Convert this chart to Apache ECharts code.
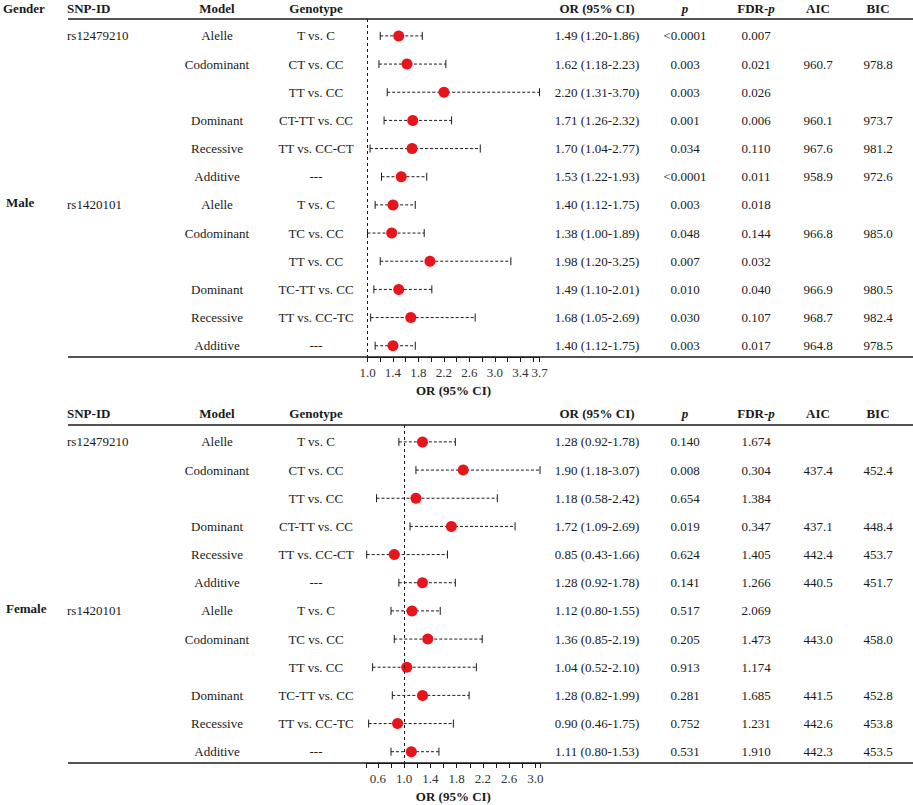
<!DOCTYPE html>
<html lang="en">
<head>
<meta charset="UTF-8">
<script src="https://cdn.jsdelivr.net/npm/echarts@6/dist/echarts.min.js"></script>
<title>Forest plot</title>
<style>
    html, body { margin: 0; padding: 0; background: #fff; }
    #main { width: 913px; height: 805px; }
</style>
</head>
<body>
<div id="main"></div>
<script>
    // row labels (same for both panels)
    var snpIds = ['rs12479210', '', '', '', '', '', 'rs1420101', '', '', '', '', ''];
    var models = ['Alelle', 'Codominant', '', 'Dominant', 'Recessive', 'Additive',
                  'Alelle', 'Codominant', '', 'Dominant', 'Recessive', 'Additive'];
    var genotypes = ['T vs. C', 'CT vs. CC', 'TT vs. CC', 'CT-TT vs. CC', 'TT vs. CC-CT', '---',
                     'T vs. C', 'TC vs. CC', 'TT vs. CC', 'TC-TT vs. CC', 'TT vs. CC-TC', '---'];

    // male
    var maleOR   = [1.49, 1.62, 2.20, 1.71, 1.70, 1.53, 1.40, 1.38, 1.98, 1.49, 1.68, 1.40];
    var maleLow  = [1.20, 1.18, 1.31, 1.26, 1.04, 1.22, 1.12, 1.00, 1.20, 1.10, 1.05, 1.12];
    var maleHigh = [1.86, 2.23, 3.70, 2.32, 2.77, 1.93, 1.75, 1.89, 3.25, 2.01, 2.69, 1.75];
    var maleP    = ['<0.0001', '0.003', '0.003', '0.001', '0.034', '<0.0001', '0.003', '0.048', '0.007', '0.010', '0.030', '0.003'];
    var maleFdr  = ['0.007', '0.021', '0.026', '0.006', '0.110', '0.011', '0.018', '0.144', '0.032', '0.040', '0.107', '0.017'];
    var maleAic  = ['', '960.7', '', '960.1', '967.6', '958.9', '', '966.8', '', '966.9', '968.7', '964.8'];
    var maleBic  = ['', '978.8', '', '973.7', '981.2', '972.6', '', '985.0', '', '980.5', '982.4', '978.5'];

    // female
    var femaleOR   = [1.28, 1.90, 1.18, 1.72, 0.85, 1.28, 1.12, 1.36, 1.04, 1.28, 0.90, 1.11];
    var femaleLow  = [0.92, 1.18, 0.58, 1.09, 0.43, 0.92, 0.80, 0.85, 0.52, 0.82, 0.46, 0.80];
    var femaleHigh = [1.78, 3.07, 2.42, 2.69, 1.66, 1.78, 1.55, 2.19, 2.10, 1.99, 1.75, 1.53];
    var femaleP    = ['0.140', '0.008', '0.654', '0.019', '0.624', '0.141', '0.517', '0.205', '0.913', '0.281', '0.752', '0.531'];
    var femaleFdr  = ['1.674', '0.304', '1.384', '0.347', '1.405', '1.266', '2.069', '1.473', '1.174', '1.685', '1.231', '1.910'];
    var femaleAic  = ['', '437.4', '', '437.1', '442.4', '440.5', '', '443.0', '', '441.5', '442.6', '442.3'];
    var femaleBic  = ['', '452.4', '', '448.4', '453.7', '451.7', '', '458.0', '', '452.8', '453.8', '453.5'];

    // axis ticks / labels
    var topTicks = [1.0, 1.2, 1.4, 1.6, 1.8, 2.0, 2.2, 2.4, 2.6, 2.8, 3.0, 3.2, 3.4, 3.6, 3.7];
    var topLabels = [1.0, 1.4, 1.8, 2.2, 2.6, 3.0, 3.4, 3.7];
    var bottomTicks = [0.43, 0.6, 0.8, 1.0, 1.2, 1.4, 1.6, 1.8, 2.0, 2.2, 2.4, 2.6, 2.8, 3.0, 3.07];
    var bottomLabels = [0.6, 1.0, 1.4, 1.8, 2.2, 2.6, 3.0];

    var headers = ['SNP-ID', 'Model', 'Genotype', 'OR (95% CI)', '{i|p}', 'FDR-{i|p}', 'AIC', 'BIC'];

    var serif = "'Liberation Serif', 'Times New Roman', serif";
    var ink = '#1a1a1a';
    var dotColor = '#e8141b';
    // column x positions (px)
    var colX = [67, 217, 316, 597, 685, 756, 818, 878];

    function txt(x, y, s, opt) {
        opt = opt || {};
        return {
            type: 'text', x: x, y: y, silent: true,
            style: {
                text: s, fill: ink, fontSize: 13, fontFamily: serif,
                fontWeight: opt.bold ? 'bold' : 'normal',
                align: opt.align || 'center', verticalAlign: 'middle',
                rich: {i: {fontStyle: 'italic', fontWeight: opt.bold ? 'bold' : 'normal', fontSize: 13, fontFamily: serif, fill: ink}}
            }
        };
    }

    function tableSeries(idx, xMin, or, lo, hi, p, fdr, aic, bic, gender) {
        return {
            type: 'custom', xAxisIndex: idx, yAxisIndex: idx, silent: true,
            data: genotypes.map(function (g, i) { return [xMin, i]; }),
            renderItem: function (params, api) {
                var i = params.dataIndex;
                var y = api.coord([xMin, i])[1];
                var kids = [
                    txt(colX[0], y, snpIds[i], {align: 'left'}),
                    txt(colX[1], y, models[i]),
                    txt(colX[2], y, genotypes[i]),
                    txt(colX[3], y, or[i].toFixed(2) + ' (' + lo[i].toFixed(2) + '-' + hi[i].toFixed(2) + ')'),
                    txt(colX[4], y, p[i]),
                    txt(colX[5], y, fdr[i]),
                    txt(colX[6], y, aic[i]),
                    txt(colX[7], y, bic[i])
                ];
                if (i === 6) {
                    kids.push(txt(6, api.coord([xMin, 5.9])[1], gender, {align: 'left', bold: true}));
                }
                return {type: 'group', children: kids};
            }
        };
    }

    function whiskerSeries(idx, lo, hi) {
        return {
            type: 'custom', xAxisIndex: idx, yAxisIndex: idx, silent: true, z: 3,
            data: lo.map(function (l, i) { return [l, hi[i], i]; }),
            encode: {x: [0, 1], y: 2},
            renderItem: function (params, api) {
                var a = api.coord([api.value(0), api.value(2)]);
                var b = api.coord([api.value(1), api.value(2)]);
                var st = {stroke: ink, lineWidth: 1};
                return {
                    type: 'group',
                    children: [
                        {type: 'line', shape: {x1: a[0], y1: a[1], x2: b[0], y2: b[1]},
                         style: {stroke: ink, lineWidth: 1, lineDash: [3, 2]}},
                        {type: 'line', shape: {x1: a[0], y1: a[1] - 4, x2: a[0], y2: a[1] + 4}, style: st},
                        {type: 'line', shape: {x1: b[0], y1: b[1] - 4, x2: b[0], y2: b[1] + 4}, style: st}
                    ]
                };
            }
        };
    }

    function dotSeries(idx, or) {
        return {
            type: 'scatter', xAxisIndex: idx, yAxisIndex: idx, z: 4, silent: true,
            symbolSize: 11,
            itemStyle: {color: dotColor, opacity: 1},
            data: or.map(function (v, i) { return [v, i]; }),
            markLine: {
                silent: true, symbol: ['none', 'none'], label: {show: false},
                lineStyle: {color: ink, width: 1, type: [3, 3]},
                data: [{xAxis: 1}]
            }
        };
    }

    function xAxisOf(idx, min, max, ticks, labels) {
        return {
            gridIndex: idx, type: 'value', min: min, max: max, position: 'bottom',
            axisLine: {onZero: false, lineStyle: {color: ink, width: 1.2}},
            axisTick: {length: 5, customValues: ticks, lineStyle: {color: ink}},
            axisLabel: {
                customValues: labels, margin: 9, fontSize: 13, fontFamily: serif, color: '#333',
                formatter: function (v) { return v.toFixed(1); }
            },
            splitLine: {show: false},
            name: 'OR (95% CI)', nameLocation: 'middle', nameGap: 27,
            nameTextStyle: {fontSize: 13, fontFamily: serif, fontWeight: 'bold', color: ink}
        };
    }

    function yAxisOf(idx) {
        return {gridIndex: idx, type: 'value', inverse: true, min: -0.6, max: 11.4, show: false};
    }

    // header texts and table rules
    var graphics = [];
    [[8, 19, 357], [413, 425, 763]].forEach(function (sec, s) {
        headers.forEach(function (h, k) {
            graphics.push(txt(colX[k], sec[0], h, {bold: true, align: k === 0 ? 'left' : 'center'}));
        });
        if (s === 0) graphics.push(txt(3, sec[0], 'Gender', {bold: true, align: 'left'}));
        [sec[1], sec[2]].forEach(function (ly) {
            graphics.push({type: 'line', silent: true, z: 10,
                shape: {x1: 68, y1: ly, x2: 913, y2: ly}, style: {stroke: ink, lineWidth: 1.6}});
        });
    });

    var chart = echarts.init(document.getElementById('main'), null, {renderer: 'svg'});
    var option = {
        animation: false,
        backgroundColor: '#fff',
        grid: [
            {left: 367.5, top: 19, width: 172, height: 338, outerBoundsMode: 'none'},
            {left: 366.7, top: 425, width: 173.3, height: 338, outerBoundsMode: 'none'}
        ],
        xAxis: [
            xAxisOf(0, 1.0, 3.7, topTicks, topLabels),
            xAxisOf(1, 0.43, 3.07, bottomTicks, bottomLabels)
        ],
        yAxis: [yAxisOf(0), yAxisOf(1)],
        graphic: graphics,
        series: [
            tableSeries(0, 1.0, maleOR, maleLow, maleHigh, maleP, maleFdr, maleAic, maleBic, 'Male'),
            whiskerSeries(0, maleLow, maleHigh),
            dotSeries(0, maleOR),
            tableSeries(1, 0.43, femaleOR, femaleLow, femaleHigh, femaleP, femaleFdr, femaleAic, femaleBic, 'Female'),
            whiskerSeries(1, femaleLow, femaleHigh),
            dotSeries(1, femaleOR)
        ]
    };
    chart.setOption(option);
</script>
</body>
</html>
